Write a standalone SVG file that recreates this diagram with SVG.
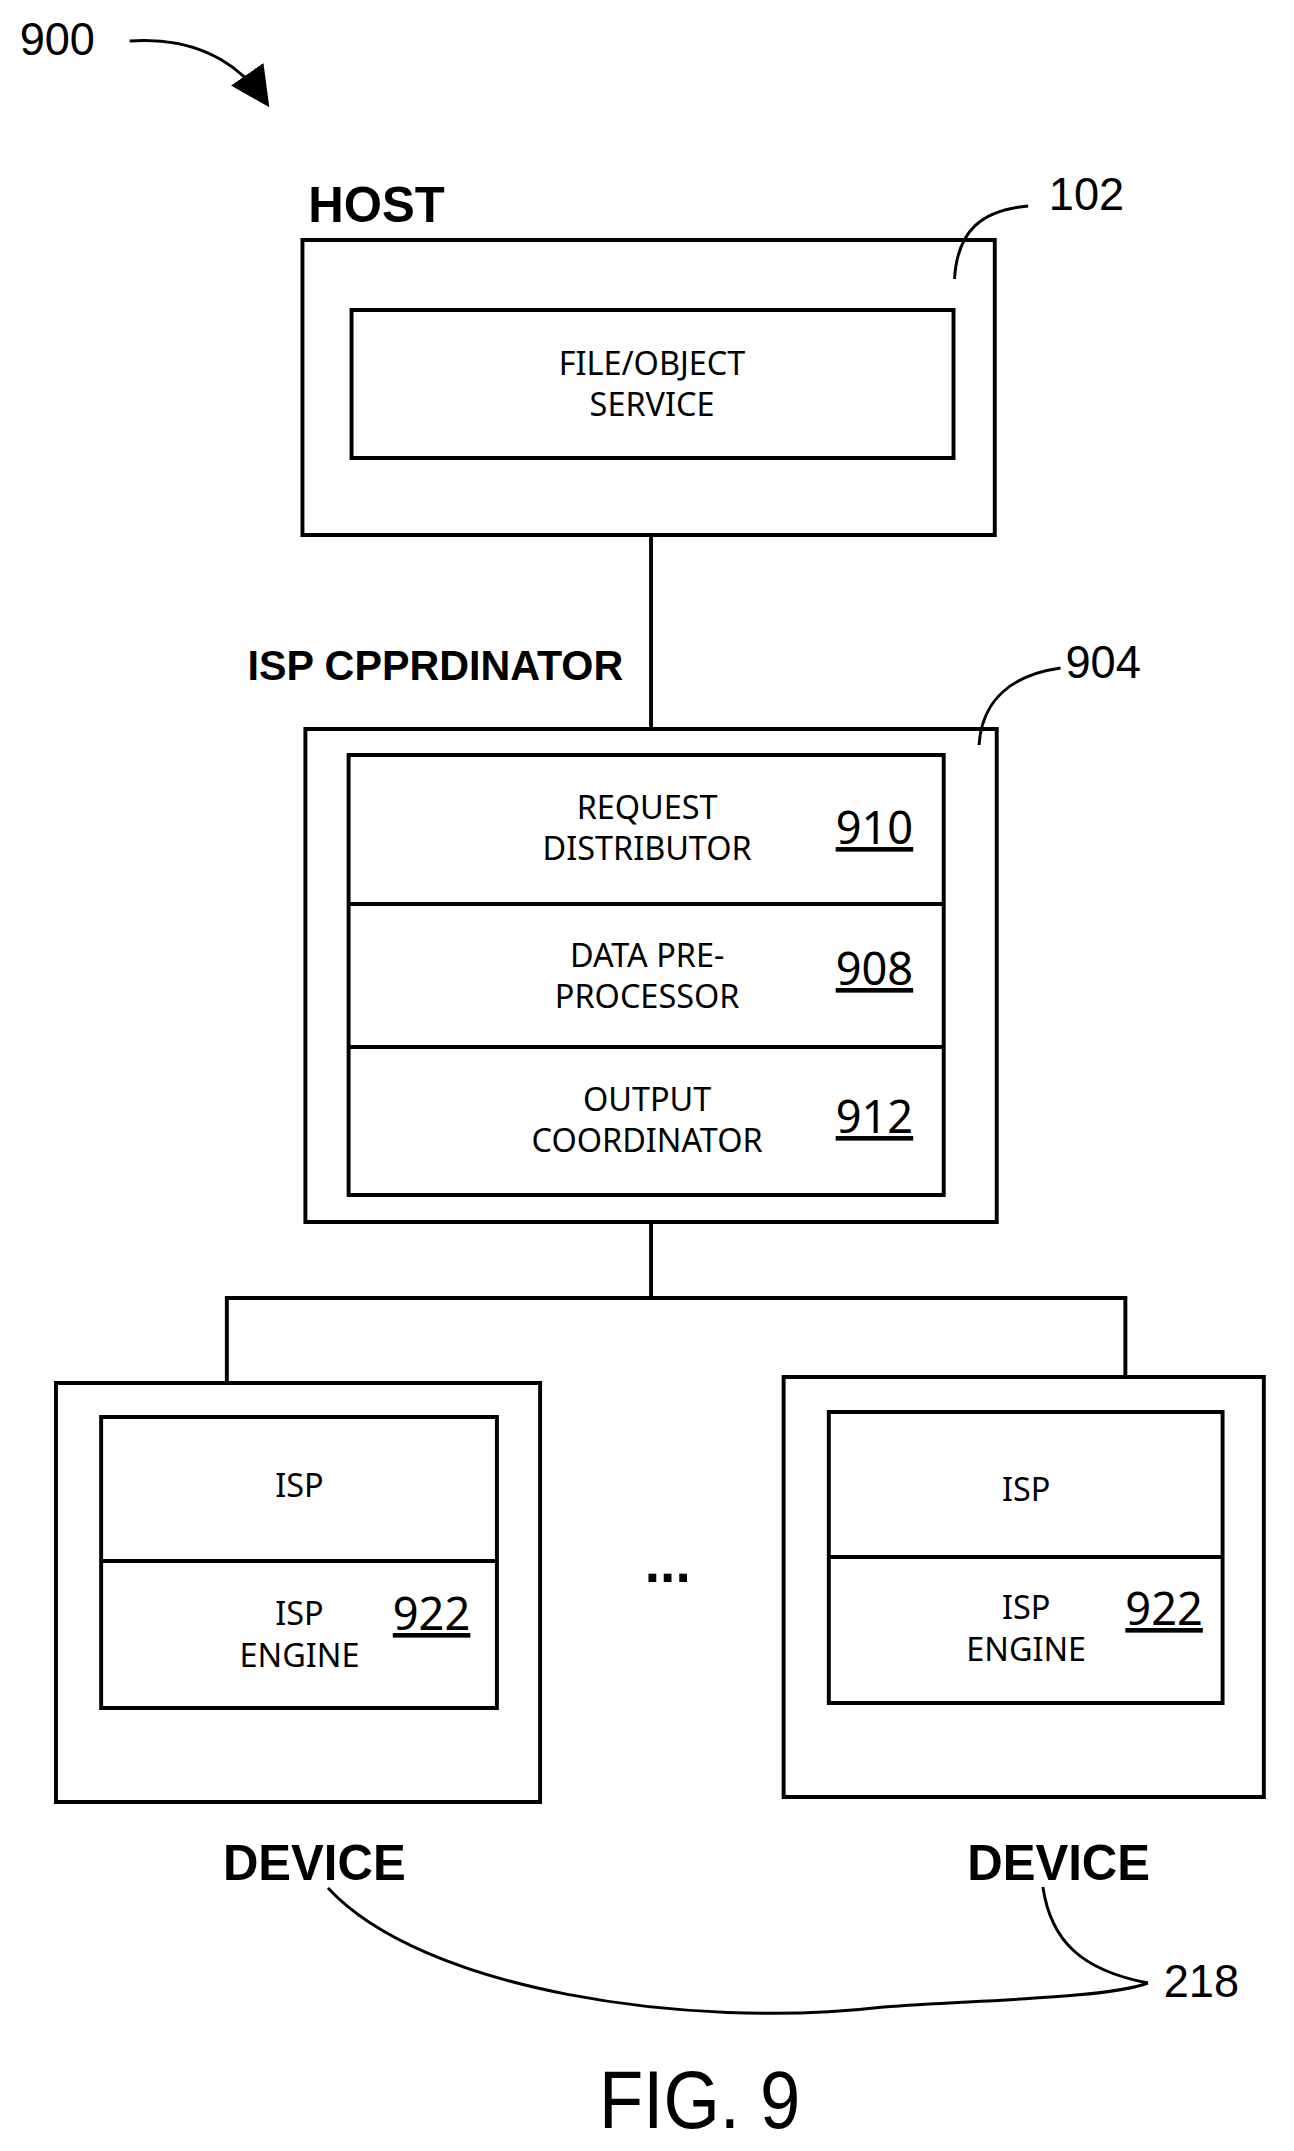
<svg xmlns="http://www.w3.org/2000/svg" width="1294" height="2151" viewBox="0 0 1294 2151">
<style>
.b{fill:none;stroke:#000;stroke-width:4}
.c{fill:none;stroke:#000;stroke-width:3}
.t{font-family:"Noto Sans","Open Sans",sans-serif;font-size:33px;text-anchor:middle}
.n{font-family:"Noto Sans","Open Sans",sans-serif;font-size:46px;text-decoration:underline}
.h{font-family:"Liberation Sans",Arial,sans-serif;font-weight:bold}
.r{font-family:"Liberation Sans",Arial,sans-serif}
</style>
<defs>
<marker id="ah2" viewBox="0 0 10 10" refX="9" refY="5" markerWidth="40" markerHeight="40" orient="auto" markerUnits="userSpaceOnUse"><path d="M0,0 L10,5 L0,10 z"/></marker></defs>
<g transform="scale(0.982,1)">
<text class="r" x="20" y="55" font-size="46">900</text>
<path class="c" d="M132,41 Q225,35 272,104" marker-end="url(#ah2)"/>
<g id="host">
<text class="h" x="314" y="222" font-size="50">HOST</text>
<rect class="b" x="308" y="240" width="705" height="295"/>
<rect class="b" x="358" y="310" width="613" height="148"/>
<text class="t" x="664" y="375">FILE/OBJECT</text>
<text class="t" x="664" y="416">SERVICE</text>
<text class="r" x="1068" y="210" font-size="46">102</text>
<path class="c" d="M972,279 C975,230 1000,210 1047,206"/>
</g>
<g id="coordinator">
<text class="h" x="252" y="680" font-size="42">ISP CPPRDINATOR</text>
<rect class="b" x="311" y="729" width="704" height="493"/>
<rect class="b" x="355" y="755" width="606" height="440"/>
<line class="b" x1="355" y1="904" x2="961" y2="904"/>
<line class="b" x1="355" y1="1047" x2="961" y2="1047"/>
<text class="t" x="659" y="819">REQUEST</text>
<text class="t" x="659" y="860">DISTRIBUTOR</text>
<text class="n" x="851" y="844">910</text>
<text class="t" x="659" y="967">DATA PRE-</text>
<text class="t" x="659" y="1008">PROCESSOR</text>
<text class="n" x="851" y="985">908</text>
<text class="t" x="659" y="1111">OUTPUT</text>
<text class="t" x="659" y="1152">COORDINATOR</text>
<text class="n" x="851" y="1133">912</text>
<text class="r" x="1085" y="678" font-size="46">904</text>
<path class="c" d="M997,745 C1000,700 1030,675 1080,668"/>
</g>
<g id="device1">
<rect class="b" x="57" y="1383" width="493" height="419"/>
<rect class="b" x="103" y="1417" width="403" height="291"/>
<line class="b" x1="103" y1="1561" x2="506" y2="1561"/>
<text class="t" x="305" y="1497">ISP</text>
<text class="t" x="305" y="1625">ISP</text>
<text class="t" x="305" y="1667">ENGINE</text>
<text class="n" x="400" y="1630">922</text>
<text class="h" x="227" y="1880" font-size="50">DEVICE</text>
</g>
<g id="device2">
<rect class="b" x="798" y="1377" width="489" height="420"/>
<rect class="b" x="844" y="1412" width="401" height="291"/>
<line class="b" x1="844" y1="1557" x2="1245" y2="1557"/>
<text class="t" x="1045" y="1501">ISP</text>
<text class="t" x="1045" y="1619">ISP</text>
<text class="t" x="1045" y="1661">ENGINE</text>
<text class="n" x="1146" y="1625">922</text>
<text class="h" x="985" y="1880" font-size="50">DEVICE</text>
</g>
<text class="h" x="680" y="1582" font-size="56" text-anchor="middle">...</text>
<g id="connectors">
<line class="b" x1="663" y1="535" x2="663" y2="729"/>
<polyline class="b" points="663,1222 663,1298"/>
<polyline class="b" points="231,1383 231,1298 1146,1298 1146,1377"/>
<path class="c" d="M334,1888 C430,1990 700,2030 900,2007 C1000,2000 1130,1998 1169,1983"/>
<path class="c" d="M1062,1887 C1070,1940 1100,1970 1169,1983"/>
</g>
<text class="r" x="1185" y="1997" font-size="46">218</text>
<text class="r" x="610" y="2128" font-size="82" textLength="205" lengthAdjust="spacingAndGlyphs">FIG. 9</text>
</g>
</svg>
